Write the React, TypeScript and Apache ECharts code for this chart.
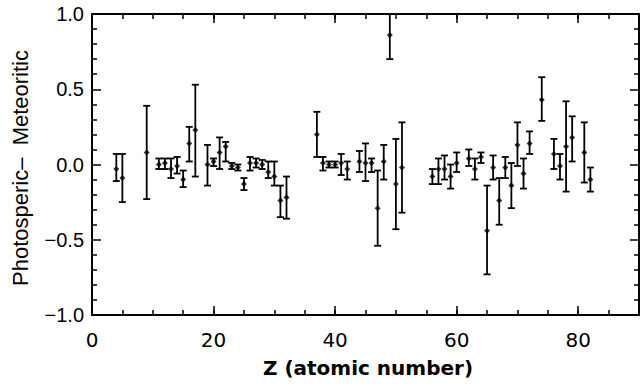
import React, { useEffect, useRef } from "react";
import * as echarts from "echarts";

// Atomic number Z of each element
const atomicNumbers = [
  4, 5, 9, 11, 12, 13, 14, 15, 16, 17, 19, 20, 21, 22, 23, 24, 25, 26, 27, 28,
  29, 30, 31, 32, 37, 38, 39, 40, 41, 42, 44, 45, 46, 47, 48, 49, 50, 51, 56,
  57, 58, 59, 60, 62, 63, 64, 65, 66, 67, 68, 69, 70, 71, 72, 74, 76, 77, 78,
  79, 81, 82,
];
// Photospheric minus meteoritic abundance (dex)
const diffValues = [
  -0.03, -0.09, 0.08, 0.0, 0.01, -0.03, -0.01, -0.1, 0.14, 0.23, 0.0, 0.02,
  0.08, 0.12, -0.01, -0.02, -0.13, 0.01, 0.01, 0.0, -0.05, -0.08, -0.24, -0.22,
  0.2, 0.01, 0.0, 0.0, 0.01, -0.03, 0.02, 0.01, 0.01, -0.29, 0.02, 0.86, -0.13,
  -0.02, -0.08, -0.03, -0.03, -0.08, 0.01, 0.04, -0.03, 0.05, -0.44, -0.02,
  -0.24, -0.02, -0.14, 0.13, -0.06, 0.14, 0.43, 0.07, -0.01, 0.12, 0.18, 0.08,
  -0.1,
];
// Lower end of each error bar
const errLow = [
  -0.11, -0.25, -0.23, -0.03, -0.03, -0.09, -0.06, -0.15, 0.02, -0.08, -0.14,
  -0.01, -0.03, 0.02, -0.03, -0.04, -0.17, -0.04, -0.02, -0.03, -0.09, -0.14,
  -0.35, -0.36, 0.05, -0.04, -0.02, -0.02, -0.07, -0.1, -0.05, -0.11, -0.05,
  -0.54, -0.1, 0.7, -0.43, -0.32, -0.13, -0.13, -0.1, -0.16, -0.05, -0.01, -0.1,
  0.01, -0.73, -0.1, -0.4, -0.09, -0.29, -0.01, -0.16, 0.07, 0.29, -0.03, -0.1,
  -0.18, 0.02, -0.12, -0.18,
];
// Upper end of each error bar
const errHigh = [
  0.07, 0.07, 0.39, 0.04, 0.04, 0.04, 0.05, -0.04, 0.25, 0.53, 0.13, 0.04, 0.18,
  0.15, 0.01, 0.0, -0.09, 0.05, 0.04, 0.03, 0.02, 0.02, -0.14, -0.08, 0.35, 0.05,
  0.02, 0.02, 0.07, 0.02, 0.09, 0.14, 0.04, -0.04, 0.13, 1.0, 0.17, 0.28, -0.03,
  0.04, 0.06, 0.0, 0.08, 0.1, 0.04, 0.08, -0.14, 0.06, -0.09, 0.05, 0.01, 0.28,
  0.04, 0.22, 0.58, 0.17, 0.07, 0.42, 0.32, 0.28, -0.02,
];

const xTitle = "Z (atomic number)";
const yTitle = "Photosperic–  Meteoritic";

export default function App() {
  const ref = useRef<HTMLDivElement>(null);

  useEffect(() => {
    if (!ref.current) return;
    const chart = echarts.init(ref.current, null, { renderer: "svg" });
    const errData = atomicNumbers.map((z, i) => [z, errLow[i], errHigh[i]]);
    const ptData = atomicNumbers.map((z, i) => [z, diffValues[i]]);

    const lineStyle = { color: "#000", width: 2 };
    const tickStyle = { color: "#000", width: 1.5 };

    const xMajor = (position: string, withLabels: boolean) => ({
      type: "value",
      min: 0,
      max: 90,
      interval: 20,
      position,
      axisLine: { show: true, onZero: false, lineStyle },
      axisTick: { show: true, inside: true, length: 9, lineStyle: tickStyle },
      axisLabel: withLabels
        ? {
            show: true,
            margin: 15,
            color: "#000",
            fontSize: 20,
            fontFamily: "DejaVu Sans",
            formatter: (v: number) => (v === 90 ? "" : String(v)),
          }
        : { show: false },
      splitLine: { show: false },
    });
    const xMinor = (position: string) => ({
      type: "value",
      min: 0,
      max: 90,
      interval: 5,
      position,
      axisLine: { show: false, onZero: false },
      axisTick: { show: true, inside: true, length: 5, lineStyle: tickStyle },
      axisLabel: { show: false },
      splitLine: { show: false },
    });
    const yAxis = (position: string, withLabels: boolean) => ({
      type: "value",
      min: -1,
      max: 1,
      interval: 0.5,
      position,
      axisLine: { show: true, onZero: false, lineStyle },
      axisTick: { show: true, inside: true, length: 9, lineStyle: tickStyle },
      minorTick: {
        show: true,
        splitNumber: 5,
        length: 5,
        lineStyle: tickStyle,
      },
      axisLabel: withLabels
        ? {
            show: true,
            margin: 8,
            color: "#000",
            fontSize: 20,
            fontFamily: "Liberation Sans",
            formatter: (v: number) =>
              (v < 0 ? "\u2212" : "") + Math.abs(v).toFixed(1),
          }
        : { show: false },
      splitLine: { show: false },
      minorSplitLine: { show: false },
    });

    chart.setOption({
      animation: false,
      backgroundColor: "#fff",
      grid: { left: 92, right: 4, top: 14, bottom: 72, containLabel: false },
      xAxis: [
        xMajor("bottom", true),
        xMinor("bottom"),
        xMajor("top", false),
        xMinor("top"),
      ],
      yAxis: [yAxis("left", true), yAxis("right", false)],
      graphic: [
        {
          type: "text",
          x: 368,
          y: 368,
          style: {
            text: xTitle,
            fill: "#000",
            font: "bold 20px 'DejaVu Sans'",
            align: "center",
            verticalAlign: "middle",
          },
        },
        {
          type: "text",
          x: 20,
          y: 168,
          rotation: Math.PI / 2,
          style: {
            text: yTitle,
            fill: "#000",
            font: "22px 'Liberation Sans'",
            align: "center",
            verticalAlign: "middle",
          },
        },
      ],
      series: [
        {
          type: "custom",
          xAxisIndex: 0,
          yAxisIndex: 0,
          data: errData,
          encode: { x: 0, y: [1, 2] },
          renderItem: (params: any, api: any) => {
            const x = api.value(0);
            const lo = api.coord([x, api.value(1)]);
            const hi = api.coord([x, api.value(2)]);
            const w = 3.5;
            const style = { stroke: "#000", lineWidth: 1.8 };
            return {
              type: "group",
              children: [
                {
                  type: "line",
                  shape: { x1: lo[0], y1: lo[1], x2: hi[0], y2: hi[1] },
                  style,
                },
                {
                  type: "line",
                  shape: { x1: lo[0] - w, y1: lo[1], x2: lo[0] + w, y2: lo[1] },
                  style,
                },
                {
                  type: "line",
                  shape: { x1: hi[0] - w, y1: hi[1], x2: hi[0] + w, y2: hi[1] },
                  style,
                },
              ],
            };
          },
        },
        {
          type: "scatter",
          xAxisIndex: 0,
          yAxisIndex: 0,
          data: ptData,
          symbol: "diamond",
          symbolSize: 6,
          itemStyle: { color: "#000" },
        },
      ],
    });

    return () => chart.dispose();
  }, []);

  return (
    <div
      ref={ref}
      style={{
        position: "fixed",
        left: 0,
        top: 0,
        width: 643,
        height: 387,
        background: "#fff",
      }}
    />
  );
}
